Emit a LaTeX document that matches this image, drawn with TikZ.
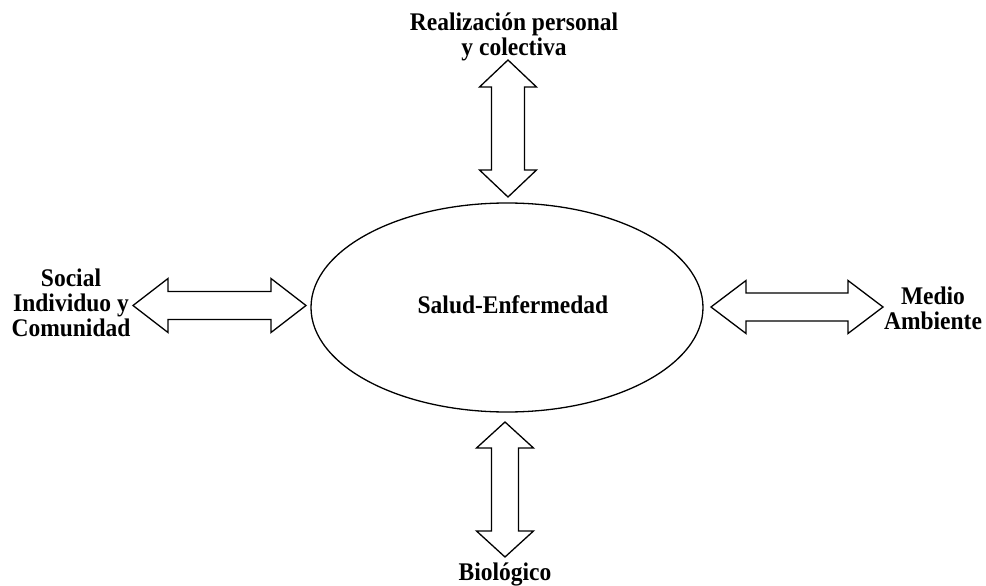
\documentclass[tikz,border=0pt]{standalone}
\usepackage{fontspec}
\setmainfont{Liberation Serif}
\usetikzlibrary{calc,shapes.geometric}

% Double block arrow between two tips: #1,#2 tips; #3 shaft half-width; #4 head half-width; #5 head length
\newcommand\hblock[5]{%
  \draw[blockarrow] (#1) -- ($(#1)+(#5,-#4)$) -- ($(#1)+(#5,-#3)$) -- ($(#2)+(-#5,-#3)$)
    -- ($(#2)+(-#5,-#4)$) -- (#2) -- ($(#2)+(-#5,#4)$) -- ($(#2)+(-#5,#3)$)
    -- ($(#1)+(#5,#3)$) -- ($(#1)+(#5,#4)$) -- cycle;}
\newcommand\vblock[5]{%
  \draw[blockarrow] (#1) -- ($(#1)+(#4,#5)$) -- ($(#1)+(#3,#5)$) -- ($(#2)+(#3,-#5)$)
    -- ($(#2)+(#4,-#5)$) -- (#2) -- ($(#2)+(-#4,-#5)$) -- ($(#2)+(-#3,-#5)$)
    -- ($(#1)+(-#3,#5)$) -- ($(#1)+(-#4,#5)$) -- cycle;}
% bold, slightly tall label text
\newcommand\lbl[1]{\scalebox{1}[1.08]{\begin{tabular}{@{}c@{}}#1\end{tabular}}}

\begin{document}
\begin{tikzpicture}[x=1pt,y=-1pt,
  blockarrow/.style={draw=black,line width=1.3pt,fill=white,line join=miter},
  label/.style={font=\fontsize{23.5}{22.8}\selectfont\bfseries,align=center,inner sep=0pt}]
  \useasboundingbox[fill=white] (0,0) rectangle (986,586);

  % central ellipse
  \node[ellipse,draw=black,line width=1.3pt,minimum width=392pt,minimum height=209pt,inner sep=0pt]
    (salud) at (507,307.5) {};
  \node[label] (saludtxt) at (513,308) {\lbl{Salud-Enfermedad}};

  % outer labels
  \node[label] (real) at (514,38) {\lbl{Realización personal\\ y colectiva}};
  \node[label] (social) at (71,306) {\lbl{Social\\ Individuo y\\ Comunidad}};
  \node[label] (medio) at (933,311.5) {\lbl{Medio\\ Ambiente}};
  \node[label] (bio) at (505,575) {\lbl{Biológico}};

  % arrow tips
  \coordinate (topA) at (508,60);
  \coordinate (topB) at (508,197);
  \coordinate (botA) at (505,422);
  \coordinate (botB) at (505,557);
  \coordinate (leftA) at (133,305.5);
  \coordinate (leftB) at (306,305.5);
  \coordinate (rightA) at (711,307);
  \coordinate (rightB) at (883,307);

  \vblock{topA}{topB}{16.5}{28.5}{27}
  \vblock{botA}{botB}{13.5}{28.5}{26}
  \hblock{leftA}{leftB}{14}{27}{35}
  \hblock{rightA}{rightB}{14}{26.5}{35}
\end{tikzpicture}
\end{document}
